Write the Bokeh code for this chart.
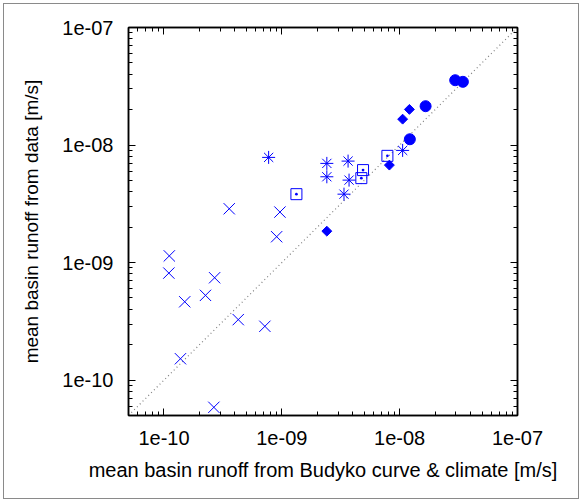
from bokeh.plotting import figure
from bokeh.models import LogAxis, FixedTicker, CustomJSTickFormatter, Range1d
from bokeh.embed import file_html
from bokeh.resources import INLINE
import numpy as np

# ---- data ----
circ_x = [2.96e-8, 3.44e-8, 1.66e-8, 1.22e-8]
circ_y = [3.56e-8, 3.45e-8, 2.14e-8, 1.12e-8]

diam_x = [1.21e-8, 1.06e-8, 8.18e-9, 2.41e-9]
diam_y = [2.01e-8, 1.66e-8, 6.75e-9, 1.85e-9]

ast_x = [7.73e-10, 2.41e-9, 3.65e-9, 1.06e-8, 2.41e-9, 3.72e-9, 3.37e-9]
ast_y = [7.85e-9, 6.98e-9, 7.30e-9, 9.0e-9, 5.37e-9, 5.03e-9, 3.82e-9]

sq_x = [7.87e-9, 4.89e-9, 4.73e-9, 1.33e-9]
sq_y = [8.09e-9, 6.12e-9, 5.23e-9, 3.82e-9]

xm_x = [3.58e-10, 9.64e-10, 9.04e-10, 1.11e-10, 1.10e-10, 2.69e-10,
        2.25e-10, 1.50e-10, 4.27e-10, 7.18e-10, 1.38e-10, 2.65e-10]
xm_y = [2.87e-9, 2.69e-9, 1.66e-9, 1.14e-9, 8.14e-10, 7.43e-10,
        5.26e-10, 4.64e-10, 3.27e-10, 2.87e-10, 1.52e-10, 5.87e-11]

diag = [5e-11, 1e-7]

major_ticks = [1e-10, 1e-9, 1e-8, 1e-7]
tick_labels = ["1e-10", "1e-09", "1e-08", "1e-07"]
minor_mantissas = [2, 3, 4, 5, 6, 7, 8, 9]
decades = [1e-11, 1e-10, 1e-9, 1e-8]
minor_ticks = [m * d for d in decades for m in minor_mantissas]

FONT = "Liberation Sans"
FS = "20px"

p = figure(x_axis_type="log", y_axis_type="log",
           x_range=Range1d(5e-11, 1e-7), y_range=Range1d(5e-11, 1e-7),
           frame_width=389, frame_height=388,
           min_border_left=124, min_border_top=23,
           min_border_right=61, min_border_bottom=83,
           output_backend="svg", toolbar_location=None)
p.styles = {"margin": "3px", "border": "1px solid #8a8a8a"}
p.xgrid.visible = False
p.ygrid.visible = False
p.outline_line_color = "black"
p.outline_line_width = 1.5

fmt = CustomJSTickFormatter(args=dict(vals=major_ticks, labs=tick_labels), code="""
let best = 0, bd = 1e9;
for (let i = 0; i < vals.length; i++) {
  const d = Math.abs(Math.log10(tick) - Math.log10(vals[i]));
  if (d < bd) { bd = d; best = i; }
}
return labs[best];
""")
blank = CustomJSTickFormatter(code="return ' ';")

def style_axis(ax, labels=True):
    ax.ticker = FixedTicker(ticks=major_ticks, minor_ticks=minor_ticks)
    ax.major_tick_in = 7
    ax.major_tick_out = 0
    ax.minor_tick_in = 4
    ax.minor_tick_out = 0
    ax.major_tick_line_color = "black"
    ax.minor_tick_line_color = "black"
    ax.axis_line_color = "black"
    ax.axis_line_width = 1.5
    if labels:
        ax.formatter = fmt
        ax.major_label_text_font = FONT
        ax.major_label_text_font_size = FS
        ax.major_label_text_color = "black"
        ax.axis_label_text_font = FONT
        ax.axis_label_text_font_size = FS
        ax.axis_label_text_font_style = "normal"
        ax.axis_label_text_color = "black"
    else:
        ax.formatter = blank
        ax.major_label_text_font_size = "2px"
        ax.major_label_text_alpha = 0
        ax.major_label_standoff = 0

style_axis(p.xaxis[0])
style_axis(p.yaxis[0])
p.xaxis[0].axis_label = "mean basin runoff from Budyko curve & climate [m/s]"
p.yaxis[0].axis_label = "mean basin runoff from data [m/s]"
p.yaxis[0].axis_label_text_font_size = "19px"
p.xaxis[0].major_label_standoff = 15
p.yaxis[0].major_label_standoff = 15
p.xaxis[0].axis_label_standoff = 11
p.yaxis[0].axis_label_standoff = 17

top = LogAxis()
right = LogAxis()
style_axis(top, labels=False)
style_axis(right, labels=False)
p.add_layout(top, "above")
p.add_layout(right, "right")

# diagonal y = x
p.line(diag, diag, line_color="#808080", line_width=1.2, line_dash="1 3")

C = "#0000ff"
p.scatter(xm_x, xm_y, marker="x", size=16, line_color=C, line_width=1)
p.scatter(ast_x, ast_y, marker="asterisk", size=13, line_color=C, line_width=1)
p.scatter(sq_x, sq_y, marker="square_dot", size=11, line_color=C, fill_color=None, line_width=1)
p.scatter(diam_x, diam_y, marker="square", angle=np.pi / 4, size=7, line_color=C, fill_color=C)
p.scatter(circ_x, circ_y, marker="circle", size=11, line_color=C, fill_color=C)

open("out.html", "w").write(file_html(p, INLINE))
